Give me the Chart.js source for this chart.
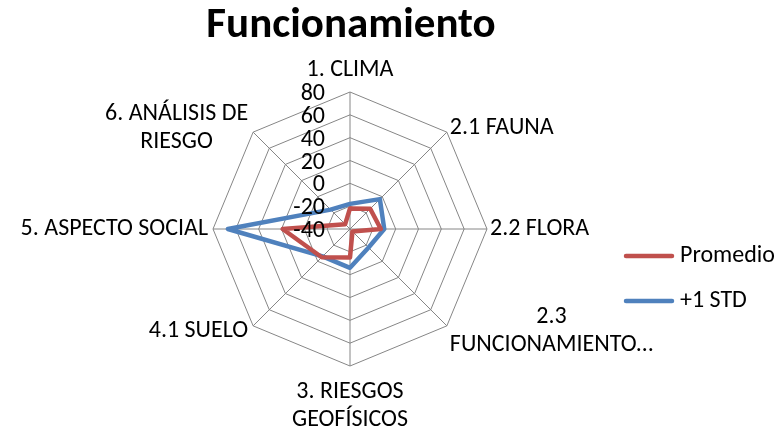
<!DOCTYPE html>
<html>
<head>
<meta charset="utf-8">
<script src="https://cdn.jsdelivr.net/npm/chart.js@4.4.1/dist/chart.umd.min.js"></script>
<style>
html, body { margin: 0; padding: 0; background: #fff; }
canvas { display: block; }
</style>
</head>
<body>
<canvas id="chart" width="781" height="429"></canvas>
<script>
// spokes, clockwise from the top; inner arrays are the wrapped lines
var categories = [
    ["1. CLIMA"],
    ["2.1 FAUNA"],
    ["2.2 FLORA"],
    ["2.3", "FUNCIONAMIENTO…"],
    ["3. RIESGOS", "GEOFÍSICOS"],
    ["4.1 SUELO"],
    ["5. ASPECTO SOCIAL"],
    ["6. ANÁLISIS DE", "RIESGO"]
];
var promedio = [-22, -15, -13, -37, -15, -5, 19, -34];
var masUnaStd = [-18, -3, -10, -17, -6, -6, 67, -16];
var tickValues = [-40, -20, 0, 20, 40, 60, 80];
var seriesNames = ["Promedio", "+1 STD"];

var RED = "#C0504D";
var BLUE = "#4F81BD";
var FONT = "Carlito, Lato, sans-serif";

// title, tick labels, spoke labels and legend drawn the way Excel lays them out
var excelLook = {
    id: "excelLook",
    afterDraw: function (chart) {
        var ctx = chart.ctx;
        var scale = chart.scales.r;
        var cx = scale.xCenter, cy = scale.yCenter;

        ctx.save();
        ctx.fillStyle = "#000";

        // title
        ctx.font = "bold 43px " + FONT;
        ctx.textAlign = "center";
        ctx.textBaseline = "middle";
        ctx.fillText("Funcionamiento", 351, 26);

        // value ticks, left of the vertical spoke
        ctx.font = "24px " + FONT;
        ctx.textAlign = "right";
        tickValues.forEach(function (v) {
            var d = scale.getDistanceFromCenterForValue(v);
            ctx.fillText(String(v), cx - 25, cy - d + 2);
        });

        // spoke labels
        var lineH = 28;
        categories.forEach(function (lines, i) {
            var p = scale.getPointPosition(i, scale.drawingArea);
            var w = 0;
            lines.forEach(function (t) { w = Math.max(w, ctx.measureText(t).width); });
            var dx = p.x - cx, dy = p.y - cy;
            var blockH = lines.length * lineH;
            var midX, top;
            if (Math.abs(dx) < 1) {
                midX = p.x;
                top = dy < 0 ? p.y - 8 - blockH : p.y + 12;
            } else {
                midX = dx > 0 ? p.x + 3 + w / 2 : p.x - 5 - w / 2;
                var shift = Math.abs(dy) < 1 ? 0 : (dy < 0 ? -4 : 5);
                top = p.y + shift - blockH / 2;
            }
            ctx.textAlign = "center";
            lines.forEach(function (t, k) {
                ctx.fillText(t, midX, top + lineH * (k + 0.5));
            });
        });

        // legend
        ctx.lineWidth = 4.5;
        ctx.lineCap = "round";
        [RED, BLUE].forEach(function (c, k) {
            var y = 256 + k * 45;
            ctx.strokeStyle = c;
            ctx.beginPath();
            ctx.moveTo(626, y);
            ctx.lineTo(672, y);
            ctx.stroke();
            ctx.textAlign = "left";
            ctx.fillText(seriesNames[k], 680, y);
        });
        ctx.restore();
    }
};

new Chart(document.getElementById("chart"), {
    type: "radar",
    data: {
        labels: categories,
        datasets: [
            { label: seriesNames[0], data: promedio, borderColor: RED, backgroundColor: RED,
              borderWidth: 4.5, pointRadius: 0, fill: false, borderJoinStyle: "round" },
            { label: seriesNames[1], data: masUnaStd, borderColor: BLUE, backgroundColor: BLUE,
              borderWidth: 4.5, pointRadius: 0, fill: false, borderJoinStyle: "round" }
        ]
    },
    options: {
        responsive: false,
        animation: false,
        devicePixelRatio: 1,
        plugins: { legend: { display: false }, title: { display: false }, tooltip: { enabled: false } },
        scales: {
            r: {
                min: -40,
                max: 80,
                ticks: { display: false, stepSize: 20 },
                grid: { color: "#868686", lineWidth: 1 },
                angleLines: { color: "#868686", lineWidth: 1 },
                pointLabels: { display: false },
                afterFit: function (scale) {
                    scale.xCenter = 350;
                    scale.yCenter = 229;
                    scale.drawingArea = 137;
                }
            }
        }
    },
    plugins: [excelLook]
});
</script>
</body>
</html>
